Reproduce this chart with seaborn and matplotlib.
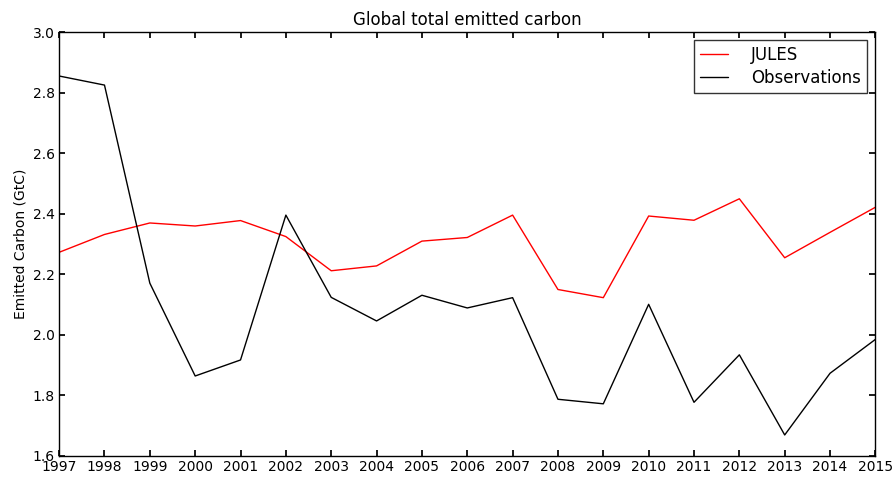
import matplotlib
matplotlib.use("Agg")
import matplotlib.pyplot as plt
import pandas as pd
import seaborn as sns

# Годы и значения двух рядов (ГтC).
YEARS = list(range(1997, 2016))
JULES = [2.272, 2.331, 2.369, 2.359, 2.377, 2.324, 2.211, 2.227, 2.309, 2.321,
         2.395, 2.149, 2.122, 2.392, 2.378, 2.449, 2.254, 2.338, 2.421]
OBSERVATIONS = [2.855, 2.825, 2.170, 1.863, 1.916, 2.395, 2.123, 2.045, 2.130, 2.088,
                2.122, 1.786, 1.771, 2.100, 1.776, 1.933, 1.668, 1.872, 1.984]
SERIES_NAMES = ["JULES", "Observations"]
COLORS = {"JULES": "#ff0000", "Observations": "#000000"}


def apply_style() -> None:
    """Классический вид: рамка, засечки внутрь со всех сторон."""
    sns.set_theme(style="white")
    plt.rcParams["font.family"] = ["DejaVu Sans"]
    plt.rcParams["axes.edgecolor"] = "black"
    plt.rcParams["axes.linewidth"] = 1.0
    plt.rcParams["xtick.direction"] = "in"
    plt.rcParams["ytick.direction"] = "in"
    plt.rcParams["xtick.top"] = True
    plt.rcParams["ytick.right"] = True
    plt.rcParams["xtick.bottom"] = True
    plt.rcParams["ytick.left"] = True
    plt.rcParams["xtick.major.size"] = 4
    plt.rcParams["ytick.major.size"] = 4
    plt.rcParams["xtick.color"] = "black"
    plt.rcParams["ytick.color"] = "black"
    plt.rcParams["text.color"] = "black"
    plt.rcParams["axes.labelcolor"] = "black"


def build() -> None:
    apply_style()
    df = pd.DataFrame({
        "year": YEARS * 2,
        "value": JULES + OBSERVATIONS,
        "series": [SERIES_NAMES[0]] * len(YEARS) + [SERIES_NAMES[1]] * len(YEARS),
    })

    fig = plt.figure(figsize=(8.96, 4.8), dpi=100)
    ax = fig.add_axes([0.066, 0.051, 0.911, 0.882])
    sns.lineplot(data=df, x="year", y="value", hue="series", palette=COLORS,
                 hue_order=SERIES_NAMES, linewidth=1.0, ax=ax)

    ax.set_xlim(1997, 2015)
    ax.set_ylim(1.6, 3.0)
    ax.set_xticks(YEARS)
    ax.set_xticklabels([str(y) for y in YEARS])
    ax.set_yticks([1.6, 1.8, 2.0, 2.2, 2.4, 2.6, 2.8, 3.0])
    ax.tick_params(labelsize=10, pad=3)
    ax.set_xlabel("")
    ax.set_ylabel("Emitted Carbon (GtC)", fontsize=10)
    ax.set_title("Global total emitted carbon", fontsize=12, pad=5)

    leg = ax.legend(loc="upper right", fontsize=12, frameon=True, fancybox=False,
                    handlelength=1.7, handletextpad=1.4, borderpad=0.35,
                    labelspacing=0.3, borderaxespad=0.5)
    leg.get_frame().set_edgecolor("black")
    leg.get_frame().set_linewidth(1.0)

    fig.savefig("out.png", dpi=100)
    plt.close(fig)


if __name__ == "__main__":
    build()
